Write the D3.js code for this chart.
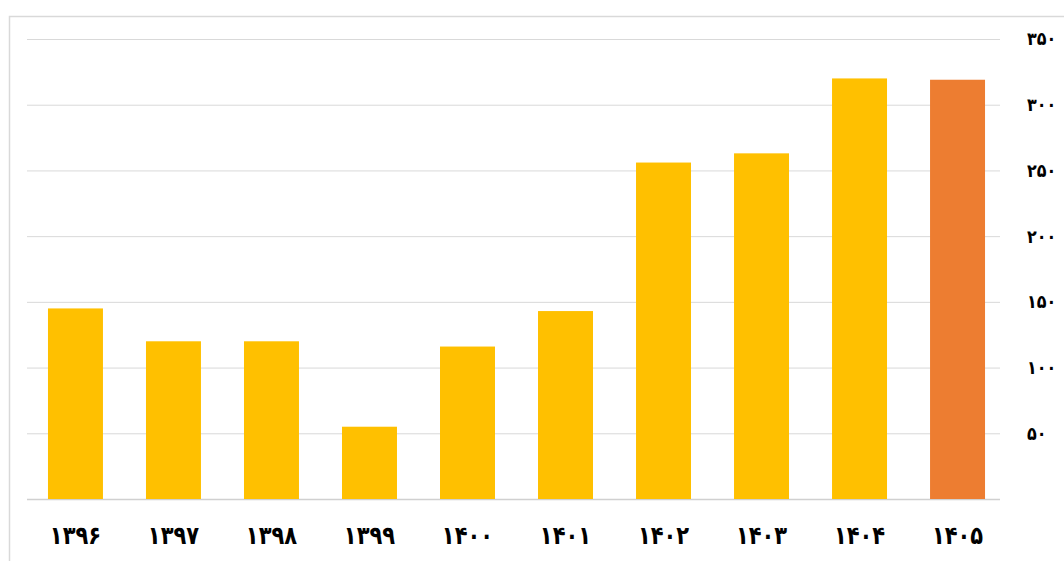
<!DOCTYPE html>
<html>
<head>
<meta charset="utf-8">
<script src="https://cdn.jsdelivr.net/npm/d3@7"></script>
<style>
body { margin: 0; background: #fff; overflow: hidden; }
svg { display: block; }
</style>
</head>
<body>
<div class="content"></div>
<script>
var years = [1396, 1397, 1398, 1399, 1400, 1401, 1402, 1403, 1404, 1405];
var values = [145, 120, 120, 55, 116, 143, 256, 263, 320, 319];
var barColors = ["#FFC000", "#FFC000", "#FFC000", "#FFC000", "#FFC000", "#FFC000", "#FFC000", "#FFC000", "#FFC000", "#ED7D31"];
var yTicks = [0, 50, 100, 150, 200, 250, 300, 350];

var width = 1064;
var height = 561;
var faDigits = "۰۱۲۳۴۵۶۷۸۹";
function fa(n) {
	return String(n).replace(/[0-9]/g, function(c){ return faDigits[+c]; });
}

var svg = d3.select(".content").append("svg").attr("width", width).attr("height", height);

// chart frame
svg.append("rect").attr("x", 9.5).attr("y", 16.5).attr("width", 1200).attr("height", 700)
	.attr("fill", "none").attr("stroke", "#d9d9d9").attr("stroke-width", 1.5);

var x = d3.scaleBand().domain(years).range([27, 1006]).paddingInner(0.439).paddingOuter(0.214);
var y = d3.scaleLinear().domain([0, 350]).range([499, 39]);

// gridlines
svg.append("g").selectAll("line").data(yTicks).join("line")
	.attr("x1", 27).attr("x2", 1000)
	.attr("y1", function(d){ return y(d) + 0.5; }).attr("y2", function(d){ return y(d) + 0.5; })
	.attr("stroke", function(d){ return d === 0 ? "#d0d0d0" : "#d9d9d9"; })
	.attr("stroke-width", function(d){ return d === 0 ? 1.5 : 1; });

// bars
svg.append("g").selectAll("rect").data(values).join("rect")
	.attr("x", function(d, i){ return x(years[i]); })
	.attr("width", x.bandwidth())
	.attr("y", function(d){ return y(d); })
	.attr("height", function(d){ return y(0) - y(d); })
	.attr("fill", function(d, i){ return barColors[i]; });

// y axis labels on the right
var yAxis = d3.axisRight(y).tickValues(yTicks.filter(function(d){ return d > 0; }))
	.tickSize(0).tickPadding(0).tickFormat(fa);
svg.append("g").attr("transform", "translate(1027,0)").call(yAxis)
	.call(function(g){ g.select(".domain").remove(); })
	.selectAll("text")
	.attr("font-family", "DejaVu Sans").attr("font-weight", "bold").attr("font-size", 16)
	.attr("transform", "scale(1,1.15)")
	.attr("fill", "#000").attr("direction", "ltr");

// x axis labels
var xAxis = d3.axisBottom(x).tickSize(0).tickPadding(0).tickFormat(fa);
svg.append("g").attr("transform", "translate(0,526)").call(xAxis)
	.call(function(g){ g.select(".domain").remove(); })
	.selectAll("text")
	.attr("font-family", "DejaVu Sans").attr("font-weight", "bold").attr("font-size", 21)
	.attr("transform", "scale(1,1.2)")
	.attr("fill", "#000").attr("direction", "ltr");
</script>
</body>
</html>
